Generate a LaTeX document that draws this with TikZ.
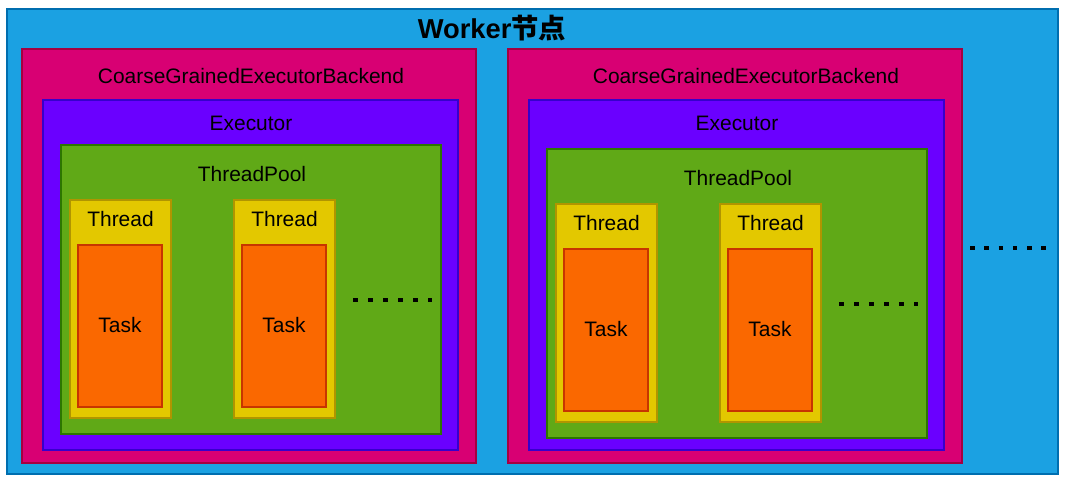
\documentclass[tikz,border=0pt]{standalone}
\usepackage{fontspec}
\setmainfont{Liberation Sans}
\newfontfamily\cjk{Noto Sans CJK SC}
\usepackage{tikz}

\definecolor{workerfill}{HTML}{1BA1E2}
\definecolor{workerline}{HTML}{006EAF}
\definecolor{backendfill}{HTML}{D80073}
\definecolor{backendline}{HTML}{A50040}
\definecolor{execfill}{HTML}{6A00FF}
\definecolor{execline}{HTML}{3700CC}
\definecolor{poolfill}{HTML}{60A917}
\definecolor{poolline}{HTML}{2D7600}
\definecolor{threadfill}{HTML}{E3C800}
\definecolor{threadline}{HTML}{B09500}
\definecolor{taskfill}{HTML}{FA6800}
\definecolor{taskline}{HTML}{C73500}

\tikzset{
  dots/.style={line width=3.4pt, dash pattern=on 3.4pt off 7.85pt},
  lbl/.style={inner sep=0pt, font=\fontsize{15.7}{18}\selectfont}
}

\begin{document}
\begin{tikzpicture}[x=0.75pt, y=-0.75pt, line width=1.1pt]
    \useasboundingbox (0,0) rectangle (1066,483);

    % draw worker box
    \filldraw[draw=workerline, fill=workerfill] (7,9) rectangle (1058,474);
    \node[inner sep=0pt, font=\fontsize{20.5}{24}\selectfont\bfseries] (title) at (492,28) {Worker{\cjk 节点}};

    % draw backends, executors and pools
    \foreach \dx/\dy/\lx [count=\i] in {0/0/251, 486/4/746} {
      \filldraw[draw=backendline, fill=backendfill] (22+\dx,49) rectangle (476+\dx,463);
      \node[lbl] (backend\i) at (\lx,76) {CoarseGrainedExecutorBackend};

      \filldraw[draw=execline, fill=execfill] (43+\dx,100) rectangle (458+\dx,450);
      \node[lbl] (executor\i) at (251+\dx,123) {Executor};

      \filldraw[draw=poolline, fill=poolfill] (61+\dx,145+\dy) rectangle (441+\dx,434+\dy);
      \node[lbl] (pool\i) at (252+\dx,174+\dy) {ThreadPool};

      % draw threads with their tasks
      \foreach \tx [count=\j] in {0, 164} {
        \filldraw[draw=threadline, fill=threadfill] (70+\dx+\tx,200+\dy) rectangle (171+\dx+\tx,418+\dy);
        \node[lbl] (thread\i\j) at (120.5+\dx+\tx,219+\dy) {Thread};
        \filldraw[draw=taskline, fill=taskfill] (78+\dx+\tx,245+\dy) rectangle (162+\dx+\tx,407+\dy);
        \node[lbl] (task\i\j) at (120+\dx+\tx,325+\dy) {Task};
      }

      % draw more threads
      \draw[dots] (353+\dx,300+\dy) -- (432+\dx,300+\dy);
    }

    % draw more backends
    \draw[dots, dash pattern=on 3.4pt off 7.3pt] (970,248) -- (1046,248);

\end{tikzpicture}
\end{document}
